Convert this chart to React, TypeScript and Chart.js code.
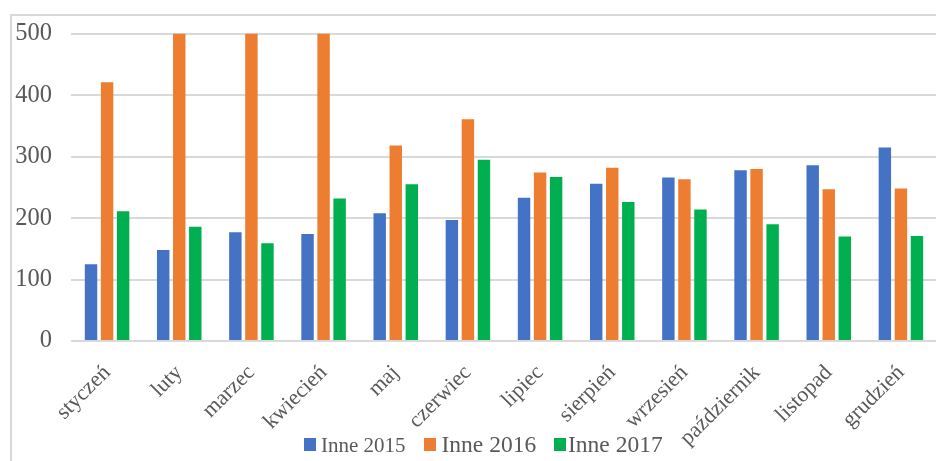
import React, { useEffect, useRef } from "react";
import { Chart, registerables } from "chart.js";

Chart.register(...registerables);

const months = ["styczeń", "luty", "marzec", "kwiecień", "maj", "czerwiec", "lipiec", "sierpień", "wrzesień", "październik", "listopad", "grudzień"];
const inne2015 = [125, 148, 177, 174, 208, 197, 233, 256, 266, 278, 286, 315];
const inne2016 = [421, 540, 560, 530, 318, 361, 274, 282, 263, 280, 247, 248];
const inne2017 = [211, 186, 159, 232, 255, 295, 267, 226, 214, 190, 170, 171];
const seriesNames = ["Inne 2015", "Inne 2016", "Inne 2017"];
const seriesColors = ["#4472C4", "#ED7D31", "#00B050"];
const yTicks = [0, 100, 200, 300, 400, 500];

const TEXT = "#595959";
const FONT = "'Liberation Serif', 'Times New Roman', serif";

const legendPlugin = {
  id: "customLegend",
  afterDraw(chart: any) {
    const ctx = chart.ctx;
    const items = [
      { sq: 304, tx: 321, size: 21 },
      { sq: 424, tx: 441.5, size: 23.5 },
      { sq: 554, tx: 568, size: 23.5 },
    ];
    ctx.save();
    chart.data.datasets.forEach((ds: any, i: number) => {
      const it = items[i];
      ctx.fillStyle = ds.backgroundColor;
      ctx.fillRect(it.sq, 438, 12, 13);
      ctx.fillStyle = TEXT;
      ctx.font = `${it.size}px ${FONT}`;
      ctx.textBaseline = "alphabetic";
      ctx.textAlign = "left";
      ctx.fillText(ds.label, it.tx, 451.5);
    });
    ctx.restore();
  },
};

export default function App() {
  const ref = useRef<HTMLCanvasElement>(null);
  useEffect(() => {
    if (!ref.current) return;
    const chart = new Chart(ref.current, {
      type: "bar",
      data: {
        labels: months,
        datasets: [inne2015, inne2016, inne2017].map((d, i) => ({
          label: seriesNames[i],
          data: d,
          backgroundColor: seriesColors[i],
          borderWidth: 0,
          categoryPercentage: 0.667,
          barPercentage: 0.775,
        })),
      },
      options: {
        responsive: false,
        animation: false,
        devicePixelRatio: 1,
        layout: { padding: { top: 31, left: 0, right: 0, bottom: 0 } },
        plugins: { legend: { display: false }, tooltip: { enabled: false } },
        scales: {
          x: {
            grid: { display: false },
            border: { display: false },
            ticks: {
              autoSkip: false,
              maxRotation: 45,
              minRotation: 45,
              color: TEXT,
              padding: 11,
              font: { family: FONT, size: 22 },
            },
            afterFit(scale: any) {
              scale.height = 120;
              scale.paddingLeft = 0;
              scale.paddingRight = 0;
            },
          },
          y: {
            min: 0,
            max: 500,
            afterBuildTicks(scale: any) {
              scale.ticks = yTicks.map((v) => ({ value: v }));
            },
            grid: { color: "#d9d9d9", lineWidth: 2, drawTicks: false },
            border: { display: false },
            ticks: {
              color: TEXT,
              padding: 19,
              font: { family: FONT, size: 24.5 },
            },
            afterFit(scale: any) {
              scale.width = 71;
            },
          },
        },
      },
      plugins: [legendPlugin],
    });
    return () => chart.destroy();
  }, []);

  return (
    <div style={{ position: "fixed", left: 0, top: 0, width: 936, height: 461, overflow: "hidden", background: "#fff" }}>
      <div style={{ position: "absolute", left: 10, top: 14, width: 1000, height: 1000, borderLeft: "2px solid #d9d9d9", borderTop: "2px solid #d9d9d9" }} />
      <canvas ref={ref} width={937} height={461} style={{ position: "absolute", left: 0, top: 0, width: 937, height: 461 }} />
    </div>
  );
}
